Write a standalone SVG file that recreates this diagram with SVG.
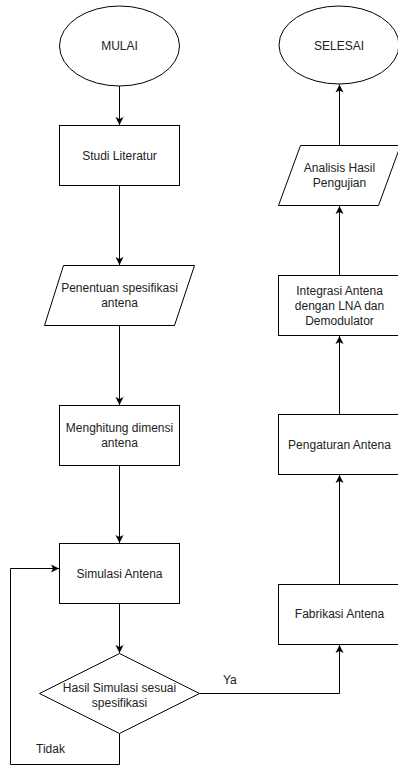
<svg xmlns="http://www.w3.org/2000/svg" width="398" height="767" viewBox="0 0 398 767">
<style>
.s{fill:#fff;stroke:#000;stroke-width:1}
.t{font-family:"Liberation Sans",Arial,sans-serif;font-size:12px;fill:#222;text-anchor:middle;dominant-baseline:central}
.l{font-family:"Liberation Sans",Arial,sans-serif;font-size:12px;fill:#222}
.c{fill:none;stroke:#000;stroke-width:1}
</style>
<defs>
<marker id="a" markerUnits="userSpaceOnUse" markerWidth="10" markerHeight="10" viewBox="0 0 10 10" refX="8" refY="5" orient="auto">
<path d="M0,1 L8,5 L0,9 L2,5 Z" fill="#000"/>
</marker>
</defs>
<rect width="398" height="767" fill="#fff"/>
<g id="connectors">
<path class="c" d="M119.5,86 V125" marker-end="url(#a)"/>
<path class="c" d="M119.5,185.5 V265" marker-end="url(#a)"/>
<path class="c" d="M119.5,325.5 V405" marker-end="url(#a)"/>
<path class="c" d="M119.5,465.5 V543" marker-end="url(#a)"/>
<path class="c" d="M119.5,603.5 V653" marker-end="url(#a)"/>
<path class="c" d="M199.5,693.5 H339.5 V645" marker-end="url(#a)"/>
<path class="c" d="M339.5,584.5 V475" marker-end="url(#a)"/>
<path class="c" d="M339.5,414.5 V336" marker-end="url(#a)"/>
<path class="c" d="M339.5,275.5 V206" marker-end="url(#a)"/>
<path class="c" d="M339.5,145.5 V84.5" marker-end="url(#a)"/>
<path class="c" d="M119.5,733.5 V764.5 H10.5 V568.5 H59" marker-end="url(#a)"/>
<text class="l" x="223" y="684">Ya</text>
<text class="l" x="36" y="753">Tidak</text>
</g>
<g id="mulai">
<ellipse class="s" cx="119.5" cy="46" rx="60" ry="40"/>
<text class="t" x="119.5" y="46">MULAI</text>
</g>
<g id="studi">
<rect class="s" x="59.5" y="125.5" width="120" height="60"/>
<text class="t" x="119.5" y="155.5">Studi Literatur</text>
</g>
<g id="penentuan">
<polygon class="s" points="63.5,265.5 194.5,265.5 174.5,325.5 44.5,325.5"/>
<text class="t" x="119.5" y="288">Penentuan spesifikasi</text>
<text class="t" x="119.5" y="303">antena</text>
</g>
<g id="menghitung">
<rect class="s" x="59.5" y="405.5" width="120" height="60"/>
<text class="t" x="119.5" y="428">Menghitung dimensi</text>
<text class="t" x="119.5" y="443">antena</text>
</g>
<g id="simulasi">
<rect class="s" x="59.5" y="543.5" width="120" height="60"/>
<text class="t" x="119.5" y="574">Simulasi Antena</text>
</g>
<g id="hasil">
<polygon class="s" points="119.5,653.5 199.5,693.5 119.5,733.5 39.5,693.5"/>
<text class="t" x="119.5" y="688">Hasil Simulasi sesuai</text>
<text class="t" x="119.5" y="703">spesifikasi</text>
</g>
<g id="fabrikasi">
<rect class="s" x="278.5" y="584.5" width="121" height="60"/>
<text class="t" x="339.5" y="614">Fabrikasi Antena</text>
</g>
<g id="pengaturan">
<rect class="s" x="278.5" y="414.5" width="121" height="60"/>
<text class="t" x="339.5" y="445">Pengaturan Antena</text>
</g>
<g id="integrasi">
<rect class="s" x="278.5" y="275.5" width="121" height="60"/>
<text class="t" x="339.5" y="291">Integrasi Antena</text>
<text class="t" x="339.5" y="306">dengan LNA dan</text>
<text class="t" x="339.5" y="321">Demodulator</text>
</g>
<g id="analisis">
<polygon class="s" points="300.5,145.5 400.5,145.5 378.5,205.5 278.5,205.5"/>
<text class="t" x="339.5" y="168">Analisis Hasil</text>
<text class="t" x="339.5" y="183">Pengujian</text>
</g>
<g id="selesai">
<ellipse class="s" cx="339" cy="45" rx="60" ry="39"/>
<text class="t" x="339" y="46">SELESAI</text>
</g>
</svg>
